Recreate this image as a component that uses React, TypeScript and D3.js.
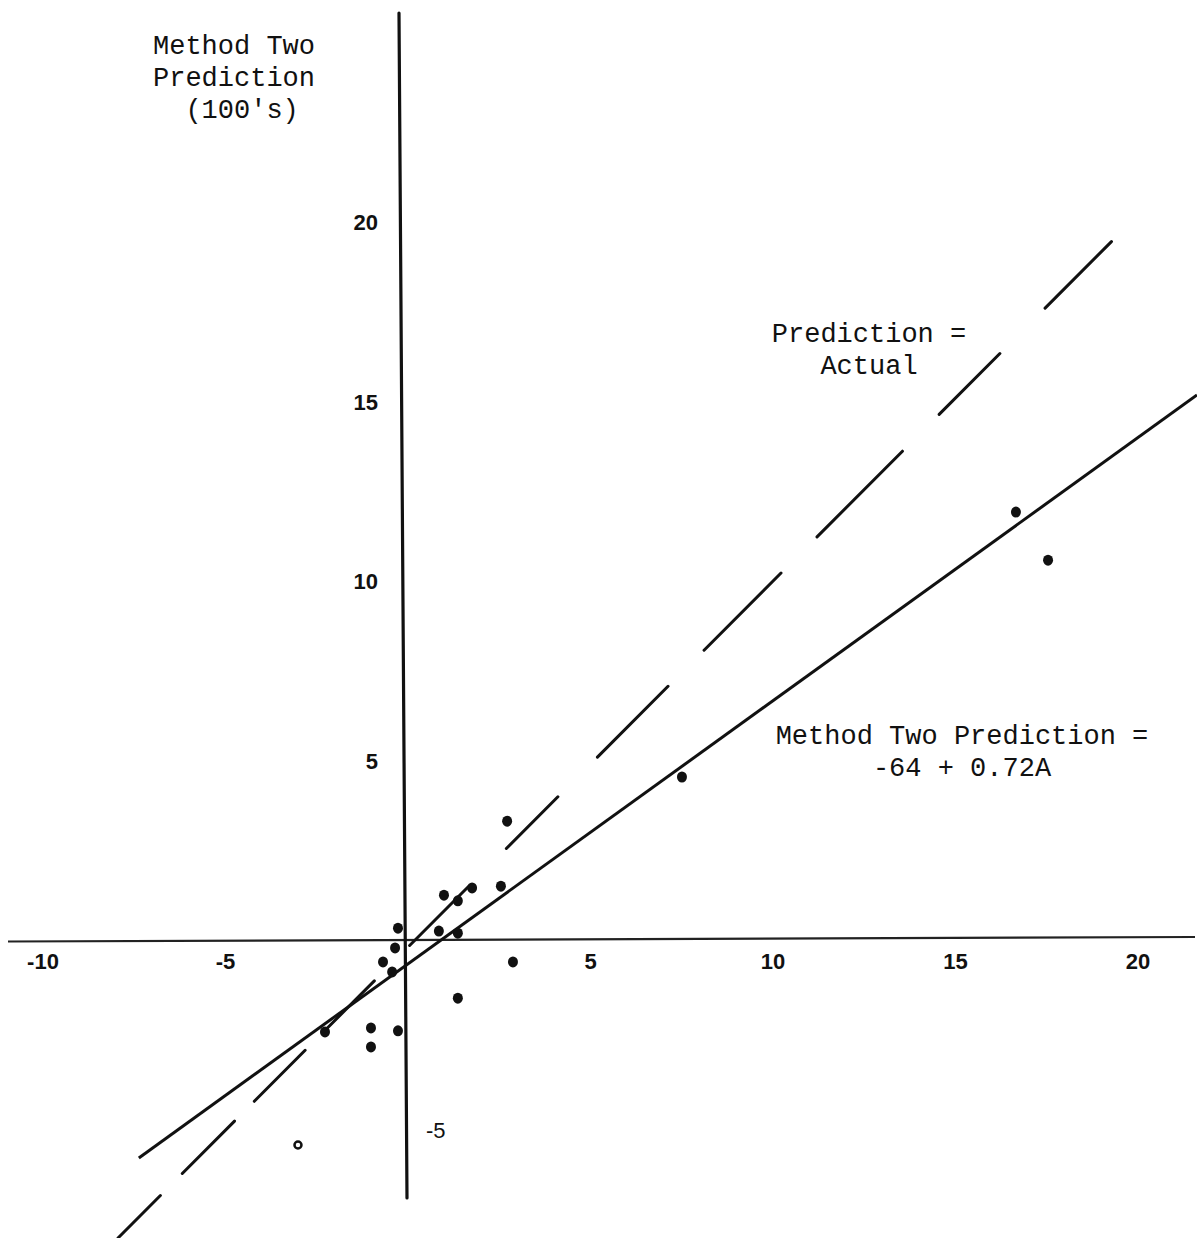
import React, { useEffect, useRef } from 'react';
import * as d3 from 'd3';

// actual (x) vs method two prediction (y), in 100's
const actualX = [2.88, 1.15, 1.92, 1.53, 2.71, -0.11, 1.01, 1.53, -0.19, -0.52, -0.27, 3.04, 1.53, -2.11, -0.85, -0.11, -0.85, 7.67, 16.82, 17.7];
const predictedY = [3.31, 1.25, 1.45, 1.09, 1.5, 0.33, 0.25, 0.19, -0.22, -0.61, -0.89, -0.61, -1.62, -2.56, -2.45, -2.53, -2.98, 4.54, 11.92, 10.58];
// one point drawn as an open circle
const openPoint = [-2.85, -5.71];

const xTicks = [-10, -5, 5, 10, 15, 20];
const yTicks = [20, 15, 10, 5];
const yTickBelow = [-5];

// hand drawn lines, endpoints
const fitLine = [[-7.21, -6.07], [21.78, 15.18]];
const equalLine = [[-7.78, -8.3], [19.56, 19.58]];

const W = 1197;
const H = 1238;

const App = () => {
  const svgRef = useRef(null);

  useEffect(() => {
    const svg = d3.select(svgRef.current);
    svg.selectAll('*').remove();

    const x = d3.scaleLinear().domain([-10, 20]).range([37, 1132]);
    const y = d3.scaleLinear().domain([-5, 20]).range([1119.5, 222]);

    const mono = '"Liberation Mono", "DejaVu Sans Mono", monospace';
    const sans = '"Liberation Sans", Arial, sans-serif';

    // axes
    svg.append('line')
      .attr('x1', 8).attr('x2', 1195)
      .attr('y1', y(0) + 1.5).attr('y2', y(0) - 3)
      .attr('stroke', '#222').attr('stroke-width', 2.2);
    svg.append('line')
      .attr('x1', x(0) - 3).attr('x2', x(0) + 5)
      .attr('y1', 13).attr('y2', 1198)
      .attr('stroke', '#111').attr('stroke-width', 3.2)
      .attr('stroke-linecap', 'round');

    const line = d3.line().x(d => x(d[0])).y(d => y(d[1]));

    // regression line
    svg.append('path')
      .attr('d', line(fitLine))
      .attr('fill', 'none')
      .attr('stroke', '#111')
      .attr('stroke-width', 3);

    // prediction = actual, long dashes
    svg.append('path')
      .attr('d', line(equalLine))
      .attr('fill', 'none')
      .attr('stroke', '#111')
      .attr('stroke-width', 3)
      .attr('stroke-linecap', 'round')
      .attr('stroke-dasharray', '60 31 74 28 72 28 70 50 83 54 73 56 100 51 109 51 121 52 86 64 94');

    // points
    svg.selectAll('ellipse.pt')
      .data(actualX.map((v, i) => [v, predictedY[i]]))
      .enter()
      .append('ellipse')
      .attr('class', 'pt')
      .attr('cx', d => x(d[0]))
      .attr('cy', d => y(d[1]))
      .attr('rx', 5)
      .attr('ry', 5.5)
      .attr('fill', '#111');

    svg.append('circle')
      .attr('cx', x(openPoint[0]))
      .attr('cy', y(openPoint[1]))
      .attr('r', 3.5)
      .attr('fill', '#fff')
      .attr('stroke', '#111')
      .attr('stroke-width', 2.5);

    // tick labels
    svg.selectAll('text.xt')
      .data(xTicks)
      .enter()
      .append('text')
      .attr('class', 'xt')
      .attr('x', d => x(d) + 6)
      .attr('y', y(0) + 29)
      .attr('text-anchor', 'middle')
      .style('font-family', sans)
      .style('font-weight', 'bold')
      .style('font-size', '22px')
      .style('fill', '#111')
      .text(d => d);

    svg.selectAll('text.yt')
      .data(yTicks)
      .enter()
      .append('text')
      .attr('class', 'yt')
      .attr('x', x(0) - 24)
      .attr('y', d => y(d) + 8)
      .attr('text-anchor', 'end')
      .style('font-family', sans)
      .style('font-weight', 'bold')
      .style('font-size', '22px')
      .style('fill', '#111')
      .text(d => d);

    svg.selectAll('text.yb')
      .data(yTickBelow)
      .enter()
      .append('text')
      .attr('class', 'yb')
      .attr('x', x(0) + 24)
      .attr('y', d => y(d) + 18)
      .attr('text-anchor', 'start')
      .style('font-family', sans)
      .style('font-size', '22px')
      .style('fill', '#111')
      .text(d => d);

    // typed labels
    const label = (lines, cx, top) => {
      lines.forEach((t, i) => {
        svg.append('text')
          .attr('x', cx)
          .attr('y', top + i * 32)
          .attr('text-anchor', 'middle')
          .style('font-family', mono)
          .style('font-size', '27px')
          .style('fill', '#111')
          .attr('xml:space', 'preserve')
          .text(t);
      });
    };
    label(['Method Two', 'Prediction', ' (100\'s)'], 234, 54);
    label(['Prediction =', 'Actual'], 869, 342);
    label(['Method Two Prediction =', '-64 + 0.72A'], 962, 744);
  }, []);

  return (
    <svg
      ref={svgRef}
      width={W}
      height={H}
      style={{ position: 'absolute', left: 0, top: 0, background: '#fff' }}
    />
  );
};

export default App;
